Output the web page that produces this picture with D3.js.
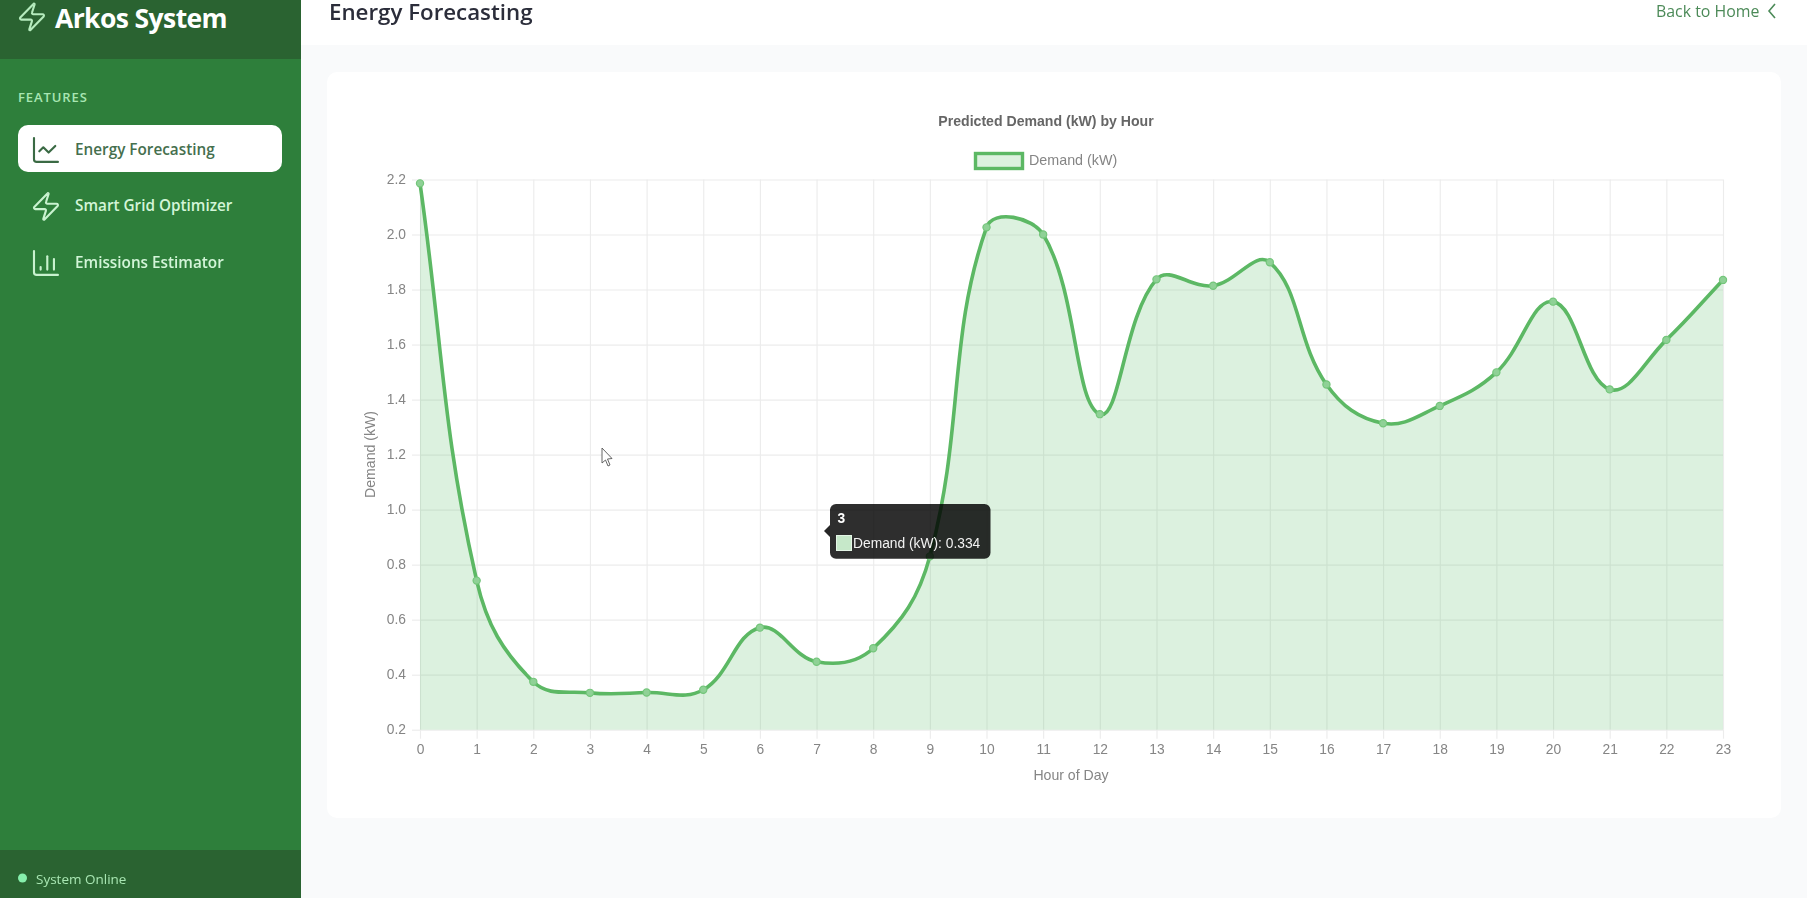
<!DOCTYPE html>
<html>
<head>
<meta charset="utf-8">
<title>Energy Forecasting</title>
<script src="https://cdn.jsdelivr.net/npm/d3@7"></script>
<style>
  body { margin: 0; background: #f9fafb; overflow: hidden; }
  svg { display: block; filter: blur(0.55px); }
  .ui { font-family: "Open Sans", sans-serif; }
  .chart text { font-family: "Liberation Sans", Arial, sans-serif; }
</style>
</head>
<body>
<svg id="page" width="1807" height="898"></svg>
<script>
const hours = [0, 1, 2, 3, 4, 5, 6, 7, 8, 9, 10, 11, 12, 13, 14, 15, 16, 17, 18, 19, 20, 21, 22, 23];
const demand = [2.186, 0.742, 0.374, 0.334, 0.335, 0.345, 0.571, 0.447, 0.496, 0.83, 2.026, 2.0,
  1.347, 1.837, 1.814, 1.899, 1.455, 1.314, 1.377, 1.499, 1.756, 1.437, 1.617, 1.835];
const yTicks = [0.2, 0.4, 0.6, 0.8, 1.0, 1.2, 1.4, 1.6, 1.8, 2.0, 2.2];
const navItems = ['Energy Forecasting', 'Smart Grid Optimizer', 'Emissions Estimator'];

const zapIcon = ['M4 14a1 1 0 0 1-.78-1.63l9.9-10.2a.5.5 0 0 1 .86.46l-1.92 6.02A1 1 0 0 0 13 10h7a1 1 0 0 1 .78 1.63l-9.9 10.2a.5.5 0 0 1-.86-.46l1.92-6.02A1 1 0 0 0 11 14z'];
const lineIcon = ['M3 3v16a2 2 0 0 0 2 2h16', 'm19 9-5 5-4-4-3 3'];
const barIcon = ['M3 3v16a2 2 0 0 0 2 2h16', 'M8 17v-2', 'M13 17V7', 'M18 17v-8'];
const navIcons = [lineIcon, zapIcon, barIcon];

const green = '#5cb864';
const svg = d3.select('#page');

// --- page furniture ---
const ui = svg.append('g').attr('class', 'ui');
ui.append('rect').attr('x', 301).attr('width', 1506).attr('height', 45).attr('fill', '#fff');
ui.append('rect').attr('x', 327).attr('y', 72).attr('width', 1454).attr('height', 746).attr('rx', 10).attr('fill', '#fff');
ui.append('rect').attr('width', 301).attr('height', 898).attr('fill', '#2e7f3b');
ui.append('rect').attr('width', 301).attr('height', 59).attr('fill', '#2a6331');
ui.append('rect').attr('y', 850).attr('width', 301).attr('height', 48).attr('fill', '#2a6331');

function icon(parent, paths, x, y, color) {
  const g = parent.append('g').attr('transform', `translate(${x},${y}) scale(1.33)`);
  g.selectAll('path').data(paths).join('path')
    .attr('d', d => d)
    .attr('fill', 'none').attr('stroke', color).attr('stroke-width', 1.6)
    .attr('stroke-linecap', 'round').attr('stroke-linejoin', 'round');
}

icon(ui, zapIcon, 16, 1, '#b5ecbd');
ui.append('text').attr('x', 55).attr('y', 28).attr('font-size', 26.5).attr('font-weight', 700)
  .attr('letter-spacing', -0.6).attr('fill', '#fff').text('Arkos System');
ui.append('text').attr('x', 18).attr('y', 102).attr('font-size', 13).attr('font-weight', 600)
  .attr('letter-spacing', 0.9).attr('fill', '#a8e6b2').text('FEATURES');

ui.append('rect').attr('x', 18).attr('y', 125).attr('width', 264).attr('height', 47).attr('rx', 10).attr('fill', '#fff');
const navY = d3.scalePoint().domain(navItems).range([150, 263]);
navItems.forEach((name, i) => {
  const active = i === 0;
  icon(ui, navIcons[i], 30, navY(name) - 16, active ? '#3a6a44' : '#c9f2cf');
  ui.append('text').attr('x', 75).attr('y', navY(name) + 4.8)
    .attr('font-size', 15.3).attr('font-weight', 600)
    .attr('fill', active ? '#456f4e' : '#d3f5d8').text(name);
});

ui.append('circle').attr('cx', 22.5).attr('cy', 878).attr('r', 4.5).attr('fill', '#86efac');
ui.append('text').attr('x', 36).attr('y', 883.5).attr('font-size', 13.5).attr('fill', '#a8e6b2').text('System Online');

ui.append('text').attr('x', 329).attr('y', 20).attr('font-size', 22.3).attr('font-weight', 600)
  .attr('fill', '#2b2d3a').text('Energy Forecasting');
ui.append('text').attr('x', 1656).attr('y', 17).attr('font-size', 15.9).attr('fill', '#4c8a58').text('Back to Home');
ui.append('path').attr('d', d3.line()([[1775, 4], [1769, 11], [1775, 18]]))
  .attr('fill', 'none').attr('stroke', '#4c8a58').attr('stroke-width', 1.6);

// --- chart ---
const chart = svg.append('g').attr('class', 'chart');
const x = d3.scaleLinear().domain([0, 23]).range([420, 1723]);
const y = d3.scaleLinear().domain([0.2, 2.2]).range([729.7, 179.5]);

const xAxis = chart.append('g').attr('transform', `translate(0,${y(0.2)})`)
  .call(d3.axisBottom(x).tickValues(hours).tickFormat(d3.format('d'))
    .tickSizeInner(-(y(0.2) - y(2.2))).tickSizeOuter(0).tickPadding(0));
const yAxis = chart.append('g').attr('transform', `translate(${x(0)},0)`)
  .call(d3.axisLeft(y).tickValues(yTicks).tickFormat(d3.format('.1f'))
    .tickSizeInner(-(x(23) - x(0))).tickSizeOuter(0).tickPadding(0));

[xAxis, yAxis].forEach(a => {
  a.select('.domain').remove();
  a.selectAll('.tick line').attr('stroke', '#ececec').attr('stroke-width', 1.15);
  a.selectAll('.tick text').attr('font-size', 13.8).attr('fill', '#858585');
});
// tick marks stick out of the plot area by a few px
xAxis.selectAll('.tick').append('line').attr('y1', 0).attr('y2', 9).attr('stroke', '#ececec').attr('stroke-width', 1.15);
yAxis.selectAll('.tick').append('line').attr('x1', 0).attr('x2', -8).attr('stroke', '#ececec').attr('stroke-width', 1.15);
xAxis.selectAll('.tick text').attr('y', 24.8).attr('dy', 0);
yAxis.selectAll('.tick text').attr('x', -14).attr('dy', '0.28em');

// same bezier spline chart.js uses for tension 0.4
const tension = 0.4;
const pts = hours.map((h, i) => [x(h), y(demand[i])]);
function controls(i) {
  const cur = pts[i];
  const prev = pts[i - 1] || cur;
  const next = pts[i + 1] || cur;
  const d01 = Math.hypot(cur[0] - prev[0], cur[1] - prev[1]);
  const d12 = Math.hypot(next[0] - cur[0], next[1] - cur[1]);
  const total = (d01 + d12) || 1;
  const fa = tension * d01 / total;
  const fb = tension * d12 / total;
  return {
    before: [cur[0] - fa * (next[0] - prev[0]), cur[1] - fa * (next[1] - prev[1])],
    after: [cur[0] + fb * (next[0] - prev[0]), cur[1] + fb * (next[1] - prev[1])]
  };
}
function spline(p) {
  p.moveTo(pts[0][0], pts[0][1]);
  for (let i = 1; i < pts.length; i++) {
    const c1 = controls(i - 1).after;
    const c2 = controls(i).before;
    p.bezierCurveTo(c1[0], c1[1], c2[0], c2[1], pts[i][0], pts[i][1]);
  }
  return p;
}

const areaPath = spline(d3.path());
areaPath.lineTo(x(23), y(0.2));
areaPath.lineTo(x(0), y(0.2));
areaPath.closePath();
chart.append('path').attr('d', areaPath.toString()).attr('fill', 'rgba(80,185,95,0.2)');
chart.append('path').attr('d', spline(d3.path()).toString())
  .attr('fill', 'none').attr('stroke', green).attr('stroke-width', 3.6);
chart.selectAll('circle.pt').data(hours).join('circle').attr('class', 'pt')
  .attr('cx', d => x(d)).attr('cy', (d, i) => y(demand[i])).attr('r', 3.6)
  .attr('fill', '#8fd196').attr('stroke', '#74c67b').attr('stroke-width', 1.2);

chart.append('text').attr('x', 1046).attr('y', 125.5).attr('text-anchor', 'middle')
  .attr('font-size', 14.1).attr('font-weight', 700).attr('fill', '#666').text('Predicted Demand (kW) by Hour');
chart.append('rect').attr('x', 975.5).attr('y', 153.5).attr('width', 47).attr('height', 15)
  .attr('fill', '#dcf1df').attr('stroke', green).attr('stroke-width', 3.4);
chart.append('text').attr('x', 1029).attr('y', 164.8).attr('font-size', 14.3).attr('fill', '#858585').text('Demand (kW)');
chart.append('text').attr('x', 1071).attr('y', 780).attr('text-anchor', 'middle')
  .attr('font-size', 14.1).attr('fill', '#858585').text('Hour of Day');
chart.append('text').attr('transform', 'translate(374.5,454.5) rotate(-90)').attr('text-anchor', 'middle')
  .attr('font-size', 14.1).attr('fill', '#858585').text('Demand (kW)');

// tooltip left open on hour 3
const tip = chart.append('g');
tip.append('path').attr('d', d3.line()([[830, 525], [824, 531], [830, 537]])).attr('fill', 'rgba(0,0,0,0.85)');
tip.append('rect').attr('x', 830).attr('y', 504).attr('width', 160.5).attr('height', 54.7).attr('rx', 6)
  .attr('fill', 'rgba(0,0,0,0.82)');
tip.append('text').attr('x', 837.5).attr('y', 523).attr('font-size', 13.8).attr('font-weight', 700)
  .attr('fill', '#fff').text(hours[3]);
tip.append('rect').attr('x', 836.5).attr('y', 535.5).attr('width', 15).attr('height', 15)
  .attr('fill', '#c6e8c9').attr('stroke', '#e4f5e6').attr('stroke-width', 1);
tip.append('text').attr('x', 853).attr('y', 547.5).attr('font-size', 13.8).attr('fill', '#f2f2f2')
  .text(`Demand (kW): ${demand[3].toFixed(3)}`);

// mouse pointer caught in the capture
chart.append('path')
  .attr('d', d3.line()([[602, 448], [602, 463], [605.5, 460], [608, 466], [610, 465], [607.5, 459], [612, 458.5]]) + 'Z')
  .attr('fill', '#fff').attr('stroke', '#555').attr('stroke-width', 0.9).attr('stroke-linejoin', 'round');
</script>
</body>
</html>
